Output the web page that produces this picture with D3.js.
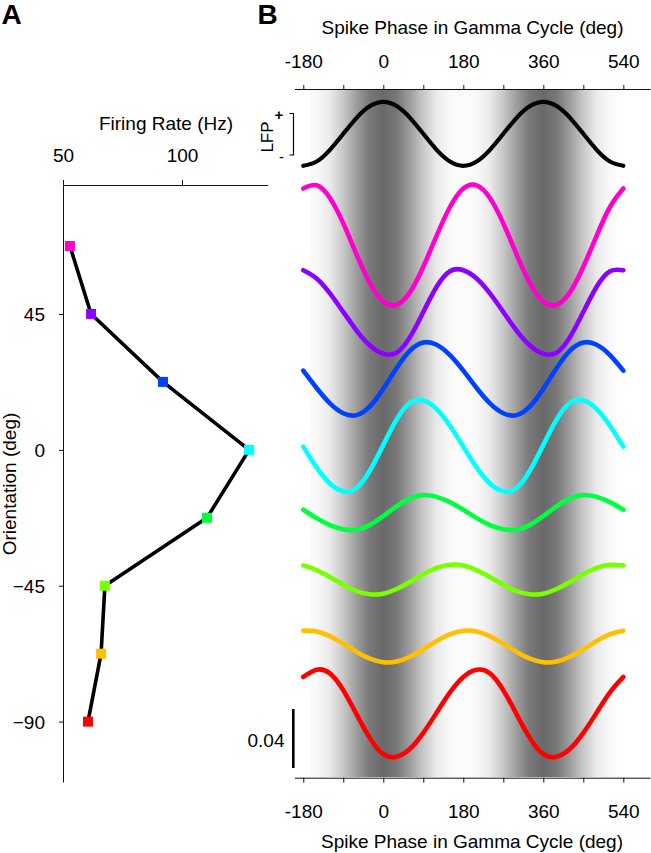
<!DOCTYPE html>
<html><head><meta charset="utf-8">
<script src="https://cdn.jsdelivr.net/npm/d3@7"></script>
<style>
body{margin:0;background:#fff}
svg{display:block}
text{font-family:"Liberation Sans",Arial,Helvetica,sans-serif;fill:#000}
</style>
</head><body>
<svg id="c" width="651" height="853"></svg>
<script>
// ---------- Panel A data ----------
const orientations = [67.5, 45, 22.5, 0, -22.5, -45, -67.5, -90];
const firingRates  = [52.9, 61.8, 92.0, 128.2, 110.5, 67.6, 66.0, 60.5];
const colors = ["#ff00cc", "#8c00ff", "#0040ff", "#00ffff", "#00ff40", "#78ff00", "#ffc000", "#ff0000"];
const rateTicks = [50, 100];
const orientationTicks = [45, 0, -45, -90];

// ---------- Panel B data (one gamma cycle, 30 deg bins) ----------
const phaseBins = [0, 30, 60, 90, 120, 150, 180, 210, 240, 270, 300, 330];
const lfp = [1.0, 0.866, 0.5, 0.0, -0.5, -0.866, -1.0, -0.866, -0.5, 0.0, 0.5, 0.866];
const spikePhase67  = [0.0450, 0.0428, 0.0514, 0.0686, 0.0897, 0.1091, 0.1216, 0.1238, 0.1152, 0.0980, 0.0769, 0.0575];
const spikePhase45  = [0.0550, 0.0557, 0.0662, 0.0833, 0.1004, 0.1109, 0.1116, 0.1060, 0.0959, 0.0833, 0.0707, 0.0606];
const spikePhase22  = [0.0766, 0.0907, 0.1025, 0.1080, 0.1064, 0.0994, 0.0889, 0.0771, 0.0667, 0.0600, 0.0587, 0.0646];
const spikePhase0   = [0.0839, 0.1011, 0.1123, 0.1140, 0.1082, 0.0969, 0.0827, 0.0686, 0.0577, 0.0524, 0.0547, 0.0665];
const spikePhaseM22 = [0.0809, 0.0876, 0.0930, 0.0952, 0.0940, 0.0904, 0.0853, 0.0796, 0.0749, 0.0720, 0.0717, 0.0750];
const spikePhaseM45 = [0.0737, 0.0769, 0.0816, 0.0869, 0.0912, 0.0933, 0.0929, 0.0897, 0.0850, 0.0797, 0.0754, 0.0733];
const spikePhaseM67 = [0.0726, 0.0731, 0.0763, 0.0814, 0.0870, 0.0916, 0.0940, 0.0935, 0.0903, 0.0852, 0.0796, 0.0750];
const spikePhaseM90 = [0.0557, 0.0539, 0.0593, 0.0701, 0.0838, 0.0975, 0.1080, 0.1129, 0.1104, 0.0990, 0.0826, 0.0664];
const spikeSeries = [spikePhase67, spikePhase45, spikePhase22, spikePhase0, spikePhaseM22, spikePhaseM45, spikePhaseM67, spikePhaseM90];
const chanceLevel = 1 / 12;
const phaseTicks = [-180, 0, 180, 360, 540];
const phaseMinorTicks = [-90, 90, 270, 450];
const scaleBarValue = 0.04;

// ---------- Setup ----------
const svg = d3.select("#c");
const FS = 19;

// ===== Panel A =====
const xA = d3.scaleLinear().domain([50, 136]).range([63, 267.7]);
const yA = d3.scaleLinear().domain([-110, 87.7]).range([782, 185]);

const gxA = svg.append("g").attr("transform", "translate(0,185)")
  .call(d3.axisTop(xA).tickValues(rateTicks).tickSize(5).tickSizeOuter(0));
gxA.selectAll("text").attr("y", -23).attr("dy", 0).style("font-size", FS + "px").style("font-family", null);
const gyA = svg.append("g").attr("transform", "translate(63,0)")
  .call(d3.axisLeft(yA).tickValues(orientationTicks).tickSize(4).tickSizeOuter(0));
gyA.selectAll("text").attr("x", -18).attr("dy", "0.35em").style("font-size", FS + "px").style("font-family", null);
[gxA, gyA].forEach(g => { g.attr("font-family", null).attr("font-size", null);
  g.selectAll("path,line").attr("stroke", "#111").attr("stroke-width", 1); });

svg.append("text").attr("x", 166).attr("y", 130).attr("text-anchor", "middle")
  .style("font-size", FS + "px").text("Firing Rate (Hz)");
svg.append("text").attr("transform", "translate(16,484) rotate(-90)").attr("text-anchor", "middle")
  .style("font-size", FS + "px").text("Orientation (deg)");

const tuning = orientations.map((o, i) => ({o, r: firingRates[i], c: colors[i]}));
svg.append("path").datum(tuning)
  .attr("d", d3.line().x(d => xA(d.r)).y(d => yA(d.o)))
  .attr("fill", "none").attr("stroke", "#000").attr("stroke-width", 3.6).attr("stroke-linejoin", "round");
svg.selectAll("rect.pt").data(tuning).enter().append("rect").attr("class", "pt")
  .attr("x", d => xA(d.r) - 5).attr("y", d => yA(d.o) - 5)
  .attr("width", 10).attr("height", 10).attr("fill", d => d.c);

svg.append("text").attr("x", 1.5).attr("y", 23.5).style("font-size", "28px").style("font-weight", "bold").text("A");
svg.append("text").attr("x", 257.5).attr("y", 23.5).style("font-size", "28px").style("font-weight", "bold").text("B");

// ===== Panel B =====
const xB = d3.scaleLinear().domain([-200, 600]).range([294.4, 650]);
const extPhases = d3.range(-180, 541, 30);
const valAt = (arr, p) => arr[(((p % 360) + 360) % 360) / 30];

// gray background derived from LFP
const defs = svg.append("defs");
const grad = defs.append("linearGradient").attr("id", "lfpGrad")
  .attr("gradientUnits", "userSpaceOnUse")
  .attr("x1", xB(-180)).attr("x2", xB(540)).attr("y1", 0).attr("y2", 0);
extPhases.forEach(p => {
  const g = Math.round(252 - 147 * Math.pow((1 + valAt(lfp, p)) / 2, 1.5));
  grad.append("stop").attr("offset", (p + 180) / 720).attr("stop-color", d3.rgb(g, g, g));
});
svg.append("rect").attr("x", xB(-165)).attr("y", 90).attr("width", xB(525) - xB(-165)).attr("height", 687)
  .attr("fill", "url(#lfpGrad)");

// axes
const gTop = svg.append("g").attr("transform", "translate(0,89)")
  .call(d3.axisTop(xB).tickValues(phaseTicks.concat(phaseMinorTicks)).tickSize(4).tickSizeOuter(0)
    .tickFormat(d => phaseTicks.includes(d) ? d : ""));
gTop.selectAll("text").attr("y", -20.7).attr("dy", 0).style("font-size", FS + "px").style("font-family", null);
const gBot = svg.append("g").attr("transform", "translate(0,777.7)")
  .call(d3.axisBottom(xB).tickValues(phaseTicks.concat(phaseMinorTicks)).tickSize(5).tickSizeOuter(0)
    .tickFormat(d => phaseTicks.includes(d) ? d : ""));
gBot.selectAll("text").attr("y", 40.6).attr("dy", 0).style("font-size", FS + "px").style("font-family", null);
[gTop, gBot].forEach(g => { g.attr("font-family", null).attr("font-size", null);
  g.selectAll("path,line").attr("stroke", "#111").attr("stroke-width", 1); });

svg.append("text").attr("x", 472.5).attr("y", 33.6).attr("text-anchor", "middle")
  .style("font-size", FS + "px").text("Spike Phase in Gamma Cycle (deg)");
svg.append("text").attr("x", 472).attr("y", 848).attr("text-anchor", "middle")
  .style("font-size", FS + "px").text("Spike Phase in Gamma Cycle (deg)");

// LFP trace
const lfpY = d3.scaleLinear().domain([-1, 1]).range([165.8, 101.8]);
svg.append("path").datum(extPhases)
  .attr("d", d3.line().x(p => xB(p)).y(p => lfpY(valAt(lfp, p))).curve(d3.curveNatural))
  .attr("fill", "none").attr("stroke", "#000").attr("stroke-width", 4.2).attr("stroke-linecap", "round");

// spike phase curves
const rowY = d3.scaleLinear().domain([0, 7]).range([245, 713.3]);
const devY = d3.scaleLinear().domain([0, scaleBarValue]).range([0, 59]);
spikeSeries.forEach((arr, i) => {
  svg.append("path").datum(extPhases)
    .attr("d", d3.line().x(p => xB(p)).y(p => rowY(i) - devY(valAt(arr, p) - chanceLevel)).curve(d3.curveNatural))
    .attr("fill", "none").attr("stroke", colors[i]).attr("stroke-width", 4.6)
    .attr("stroke-linecap", "round").attr("stroke-linejoin", "round");
});

// LFP legend
svg.append("path").attr("d", "M289.5,113.5H293.5V155H289.5").attr("fill", "none").attr("stroke", "#000").attr("stroke-width", 1.2);
svg.append("text").attr("transform", "translate(273,137) rotate(-90)").attr("text-anchor", "middle")
  .style("font-size", "17px").text("LFP");
svg.append("text").attr("x", 279).attr("y", 119.5).attr("text-anchor", "middle").style("font-size", "15px").style("font-weight", "bold").text("+");
svg.append("text").attr("x", 281.5).attr("y", 162).attr("text-anchor", "middle").style("font-size", "15px").text("-");

// scale bar
const sbBottom = 768;
svg.append("line").attr("x1", 293.3).attr("x2", 293.3)
  .attr("y1", sbBottom).attr("y2", sbBottom - devY(scaleBarValue))
  .attr("stroke", "#000").attr("stroke-width", 2.6);
svg.append("text").attr("x", 284.5).attr("y", 746.5).attr("text-anchor", "end")
  .style("font-size", FS + "px").text("0.04");
</script>
</body></html>
